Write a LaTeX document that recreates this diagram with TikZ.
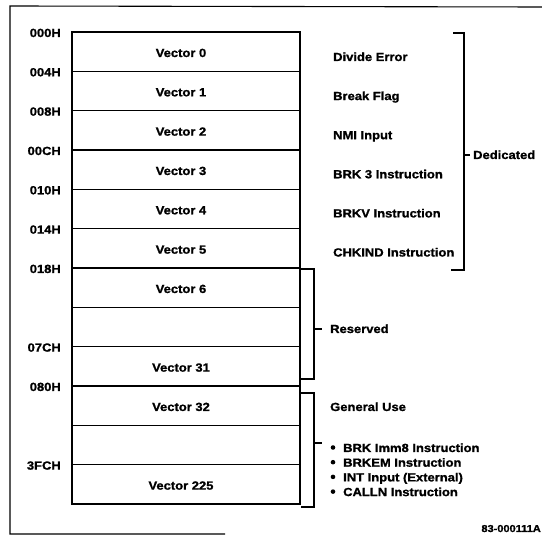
\documentclass[tikz,border=0pt]{standalone}
\usepackage{fontspec}
\setmainfont{Liberation Sans}[FakeStretch=1.1, BoldFeatures={FakeBold=1.2}]
\begin{document}
\begin{tikzpicture}[x=1pt,y=-1pt,
  lbl/.style={font=\bfseries\fontsize{11.8}{13}\selectfont, inner sep=0pt, anchor=base},
  addr/.style={lbl, anchor=base east},
  desc/.style={lbl, anchor=base west},
  vec/.style={lbl},
  bul/.style={circle, fill=black, inner sep=0pt, minimum size=4.6pt},
  rowline/.style={line width=1.2pt},
  brk/.style={line width=1.1pt}]
\useasboundingbox (0,0) rectangle (542,537);
% outer frame
\draw[line width=1.1pt] (542,7) -- (10,6) -- (10,534) -- (225,534);
% table
\coordinate (tl) at (72,32);
\coordinate (br) at (300,504);
\draw[rowline] (tl) rectangle (br);
\foreach \i in {1,...,11}{
  \draw[rowline] (72,{32+\i*39.33}) -- (300,{32+\i*39.33});
}
% address labels
\foreach \i/\t in {0/000H,1/004H,2/008H,3/00CH,4/010H,5/014H,6/018H,8/07CH,9/080H,11/3FCH}{
  \node[addr] (a\i) at (61,{37+\i*39.33}) {\t};
}
% vector labels
\foreach \i/\t in {0/Vector 0,1/Vector 1,2/Vector 2,3/Vector 3,4/Vector 4,5/Vector 5,6/Vector 6,8/Vector 31,9/Vector 32,11/Vector 225}{
  \node[vec] (v\i) at (181,{57+\i*39.33}) {\t};
}
% descriptions
\foreach \i/\t in {0/Divide Error,1/Break Flag,2/NMI Input,3/BRK 3 Instruction,4/BRKV Instruction,5/CHKIND Instruction}{
  \node[desc] (d\i) at (333,{61+\i*39.1}) {\t};
}
% Dedicated bracket
\coordinate (dt) at (464,33);
\coordinate (db) at (464,270);
\coordinate (dm) at (464,155);
\draw[brk] (453,33) -- (dt) -- (db) -- (451,270);
\node[desc] (ded) at (473,159) {Dedicated};
\draw[brk] (dm) -- (470,155);
% Reserved bracket
\coordinate (rm) at (314,329);
\draw[brk] (301,269) -- (314,269) -- (314,379) -- (301,379);
\node[desc] (res) at (330,333) {Reserved};
\draw[brk] (rm) -- (322,329);
% General use bracket
\coordinate (gm) at (314,443);
\draw[brk] (301,393) -- (314,393) -- (314,507) -- (301,507);
\node[desc] (gen) at (330,411) {General Use};
\foreach \j/\t in {0/BRK Imm8 Instruction,1/BRKEM Instruction,2/INT Input (External),3/CALLN Instruction}{
  \node[bul] (b\j) at (333,{447.5+\j*14.7}) {};
  \node[desc] (g\j) at (343,{452+\j*14.7}) {\t};
}
\draw[brk] (gm) -- (322,443);
% figure id
\node[lbl, anchor=base east, font=\bfseries\fontsize{10}{11}\selectfont] (fig) at (541,532) {83-000111A};
\end{tikzpicture}
\end{document}
